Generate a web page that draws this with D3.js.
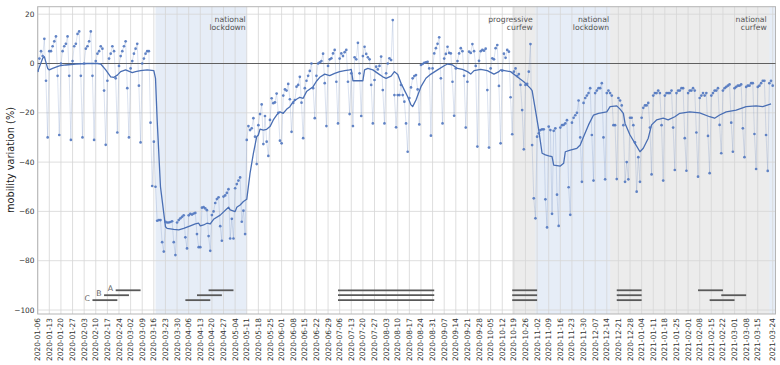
<!DOCTYPE html>
<html><head><meta charset="utf-8">
<script src="https://cdn.jsdelivr.net/npm/d3@7"></script>
<style>
body{margin:0;background:#fff;}
svg{display:block;font-family:"DejaVu Sans",sans-serif;}
</style></head>
<body><svg id="chart" width="780" height="365"></svg>
<script>
// ---------------- data ----------------
const startDate = "2020-01-06";           // first daily value (Monday)
// daily mobility variation (%), one row per week (Mon..Sun)
const mobility = [
 -3, 2, 5, 3, 10, -7, -30,
 5, 5, 7, 9, 11, -5, -29,
 0, 5, 7, 8, 11, -5, -31,
 1, 7, 8, 12, 13, -5, -30,
 0, 6, 7, 9, 13, -5, -31,
 1, 4, 5, 7, 6, -11, -33,
 -7, 2, 4, 7, 5, -6, -28,
 -1, 3, 5, 7, 9, -10, -30,
 -2, 1, 4, 6, 8, -9, -32,
 0, 2, 4, 5, 5, -24, -49.7,
 -31.7, -50, -63.8, -63.5, -63.5, -72.5, -76.3,
 -64.2, -64.5, -64.5, -64.3, -64, -72.5, -77.7,
 -64.5, -63.5, -62.8, -62.2, -61.6, -70.5, -75,
 -61.6, -61, -61.3, -60.9, -60.6, -69.2, -74.5,
 -74.5, -58.5, -58.3, -58.8, -59.5, -70, -76,
 -61.5, -60, -56.6, -55, -54.3, -66, -71.9,
 -54, -53.5, -52.5, -51, -71, -63, -71,
 -50.6, -48.9, -47.5, -46.2, -64.2, -59.7, -69.2,
 -31, -25.4, -27, -26.3, -22.2, -29.7, -40.8,
 -25, -20.5, -16.6, -32.7, -21.3, -31.7, -37.5,
 -22.9, -14.1, -16.1, -15.8, -12.2, -20, -31.3,
 -32.4, -13, -10.5, -11, -8.3, -14.5, -27.7,
 -16, -14.8, -9.4, -8.7, -5.4, -15.9, -30.3,
 -10, -7, -5, -3, 0, -10, -22.2,
 -5, 0, 0.5, 1, 4, -8, -25.4,
 -1, 1.7, 2.1, 4.1, 5.5, -7.4, -24.3,
 2, 4.1, 3, 4.6, 5.5, -7.4, -20.5,
 -4, -25.4, 2.5, 1.7, 8.4, -4, -21.3,
 3, 6.8, 3.9, 2.5, 1.7, -8.7, -24.3,
 -6.7, -1.3, -2.4, -1, 2.8, -10.8, -24.3,
 -4, 0, 2.1, 1.4, 17.6, -12.8, -25.9,
 -12.8, -12.8, -8.7, -12.8, -15.5, -24.3, -35.8,
 -14, -9.7, -6, -5.1, -4.7, -10.5, -24.7,
 -0.6, -0.2, 0.3, 0.5, 0.7, -2, -29.3,
 -2, 4.1, 6.2, 8, 10.6, -6, -24.3,
 2, 3.9, 6.8, 4.3, 4.1, -7.4, -21.2,
 -2, 1, 4.1, 6.2, 5, -5, -26,
 -7.4, 4.8, 4.3, 7.9, 5, -1, -33.7,
 1.1, 5, 5.5, 5.2, 6, -10.8, -34.1,
 -2, 2.1, 1.7, 6.2, 7.5, -9.1, -32.4,
 -2.9, 4, 2.3, 5.5, 4.8, -13.7, -28.7,
 -3.3, -2, -5.1, -4.3, -8.7, -18.9, -34.8,
 -8.7, -8.3, -3.3, 7.9, -33.1, -54.7, -62.8,
 -29.7, -28.3, -27, -26.7, -26.7, -55.1, -66.5,
 -25.6, -27, -61, -27.3, -26.3, -53.2, -65.9,
 -26, -25, -24.9, -24.3, -23, -50.2, -61.4,
 -24, -22, -21, -20, -15, -30, -48,
 -16, -14, -13, -12, -10, -29, -47.5,
 -12, -11, -10, -10, -8, -30, -47,
 -12, -11, -12, -13, -25, -25, -46.9,
 -14, -15, -17, -25, -48, -40, -47,
 -22, -22, -25, -32, -52, -38, -48,
 -22, -18, -17, -17, -16, -26, -45,
 -13, -12, -12, -11, -12, -25, -47.5,
 -13, -12, -12, -12, -11, -26, -43.2,
 -12, -11, -11, -10, -10, -30.3, -43.5,
 -12, -11, -11, -10, -11, -28, -45.9,
 -14, -13, -12, -13, -12, -29.4, -44.5,
 -13, -12, -11, -11, -10, -24.9, -36.4,
 -11, -10, -9.5, -9, -8.5, -24, -35.8,
 -10, -9.5, -9, -9, -8.5, -26.3, -38,
 -9.5, -9, -9, -8, -8, -28.6, -42.8,
 -9.5, -9, -8, -7, -7, -29, -43.6,
 -8, -7, -9
];
// smoothed trend: [days after startDate, value]
const trend = [
 [0,-3.3],[3,2.1],[4,2.8],[6,-2],[7,-2.6],[9,-2],[13,-1],[17,-0.6],[23,-0.2],[30,0],[36,0],[38,-0.2],
 [41,-2.6],[44,-5.4],[46,-5.6],[48,-4.7],[50,-3.3],[53,-2.6],[57,-3.7],[59,-3.3],[62,-2.9],[66,-2.6],
 [70,-2.9],[71,-6],[72,-22.9],[74,-50],[77,-66.2],[78,-66.9],[82,-67.3],[85,-67.5],[88,-66.9],[92,-65.9],
 [95,-65.1],[97,-64.8],[98,-65.9],[100,-65.5],[102,-64.8],[104,-65.1],[106,-63.2],[110,-61.5],[115,-58.3],
 [116,-59.4],[119,-60.1],[120,-58.3],[122,-57.4],[124,-56],[126,-55.1],[128,-44.5],[130,-36.5],[132,-29.7],
 [133,-29],[134,-26.6],[136,-27],[138,-26.7],[140,-25.6],[142,-22.9],[144,-20.9],[146,-19.6],[148,-20.2],
 [150,-18.6],[152,-17.5],[154,-15.5],[156,-14.5],[158,-13.7],[160,-14.1],[162,-11.4],[166,-9.4],[168,-7.2],
 [170,-5.6],[173,-4.3],[176,-4.9],[179,-4],[182,-3.3],[185,-2.9],[188,-2.6],[189,-2.4],[190,-7],[196,-7],
 [197,-2.6],[199,-2],[202,-2.6],[205,-4],[208,-5.4],[210,-6],[213,-5.1],[215,-3.3],[217,-4.5],[219,-8],
 [221,-10.8],[223,-13.5],[225,-16.8],[226,-17.5],[228,-14.8],[231,-9.4],[234,-6],[237,-4.3],[241,-2.6],
 [245,-0.9],[247,-0.2],[250,-0.6],[253,-2],[256,-2.4],[259,-3.3],[261,-4.3],[263,-2.9],[267,-2.4],
 [271,-2.9],[275,-4.3],[278,-3.3],[279,-2.6],[285,-3.3],[289,-5.4],[293,-7.4],[297,-10.1],[298,-11],
 [300,-18.9],[302,-27],[304,-36.4],[306,-37.1],[308,-37.5],[310,-37.8],[311,-41.2],[315,-41.6],[317,-40.5],
 [318,-35.8],[321,-35.1],[325,-34.4],[327,-33.1],[329,-29.7],[332,-24.9],[335,-20.9],[338,-20.2],
 [343,-19.6],[345,-17.5],[349,-17.2],[351,-18.5],[353,-20.2],[354,-24.3],[357,-29],[360,-32.4],
 [363,-35.8],[365,-34.4],[368,-30.3],[370,-24.9],[373,-22.9],[377,-22.2],[380,-22.9],[384,-21.6],
 [387,-20.2],[393,-19.6],[399,-20],[405,-21.6],[408,-22.2],[411,-20.9],[415,-19.6],[421,-18.9],
 [427,-17.5],[433,-17.2],[437,-17.5],[442,-16.4]
];
const xTickLabels = [
 "2020-01-06","2020-01-13","2020-01-20","2020-01-27","2020-02-03","2020-02-10","2020-02-17","2020-02-24",
 "2020-03-02","2020-03-09","2020-03-16","2020-03-23","2020-03-30","2020-04-06","2020-04-13","2020-04-20",
 "2020-04-27","2020-05-04","2020-05-11","2020-05-18","2020-05-25","2020-06-01","2020-06-08","2020-06-15",
 "2020-06-22","2020-06-29","2020-07-06","2020-07-13","2020-07-20","2020-07-27","2020-08-03","2020-08-10",
 "2020-08-17","2020-08-24","2020-08-31","2020-09-07","2020-09-14","2020-09-21","2020-09-28","2020-10-05",
 "2020-10-12","2020-10-19","2020-10-26","2020-11-02","2020-11-09","2020-11-16","2020-11-23","2020-11-30",
 "2020-12-07","2020-12-14","2020-12-21","2020-12-28","2021-01-04","2021-01-11","2021-01-18","2021-01-25",
 "2021-02-01","2021-02-08","2021-02-15","2021-02-22","2021-03-01","2021-03-08","2021-03-15","2021-03-24"
];
const yTicks = [-100, -80, -60, -40, -20, 0, 20];
const curfewPeriods = [["2020-10-18", "2021-03-26"]];
const lockdownPeriods = [["2020-03-17", "2020-05-11"], ["2020-11-01", "2020-12-16"], ["2021-03-22", "2021-03-26"]];
const periodLabels = [
 {lines: ["national", "lockdown"], end: "2020-05-11"},
 {lines: ["progressive", "curfew"], end: "2020-10-31"},
 {lines: ["national", "lockdown"], end: "2020-12-16"},
 {lines: ["national", "curfew"], end: "2021-03-21"}
];
const refBars = [
 {label: "A", level: -92, start: "2020-02-22", end: "2020-03-08"},
 {label: "B", level: -94, start: "2020-02-15", end: "2020-03-01"},
 {label: "C", level: -96, start: "2020-02-08", end: "2020-02-23"},
 {level: -92, start: "2020-04-18", end: "2020-05-03"},
 {level: -94, start: "2020-04-11", end: "2020-04-26"},
 {level: -96, start: "2020-04-04", end: "2020-04-19"},
 {level: -92, start: "2020-07-05", end: "2020-09-01"},
 {level: -94, start: "2020-07-05", end: "2020-09-01"},
 {level: -96, start: "2020-07-05", end: "2020-09-01"},
 {level: -92, start: "2020-10-18", end: "2020-11-02"},
 {level: -94, start: "2020-10-18", end: "2020-11-02"},
 {level: -96, start: "2020-10-18", end: "2020-11-02"},
 {level: -92, start: "2020-12-20", end: "2021-01-04"},
 {level: -94, start: "2020-12-20", end: "2021-01-04"},
 {level: -96, start: "2020-12-20", end: "2021-01-04"},
 {level: -92, start: "2021-02-07", end: "2021-02-22"},
 {level: -94, start: "2021-02-21", end: "2021-03-08"},
 {level: -96, start: "2021-02-14", end: "2021-03-01"}
];
const yLabel = "mobility variation (%)";

// ---------------- drawing ----------------
const svg = d3.select("#chart");
const P = {left: 37.7, right: 775.5, top: 6.7, bottom: 314};
const parse = d3.utcParse("%Y-%m-%d");
const t0 = parse(startDate);
const x = d3.scaleUtc().domain([parse("2020-01-06"), parse("2021-03-24")]).range([37.7, 772.7]);
const y = d3.scaleLinear().domain([-100, 20]).range([310, 14.2]);
const clamp = v => Math.max(P.left, Math.min(P.right, v));

svg.append("rect").attr("width", 780).attr("height", 365).attr("fill", "#fff");
svg.append("defs").append("clipPath").attr("id", "clip")
  .append("rect").attr("x", P.left).attr("y", P.top).attr("width", P.right - P.left).attr("height", P.bottom - P.top);

const gShade = svg.append("g");
curfewPeriods.forEach(([a, b]) => {
  const x0 = clamp(x(parse(a))), x1 = clamp(x(parse(b)));
  gShade.append("rect").attr("x", x0).attr("y", P.top).attr("width", x1 - x0).attr("height", P.bottom - P.top)
    .attr("fill", "#ececec");
});
lockdownPeriods.forEach(([a, b]) => {
  const x0 = clamp(x(parse(a))), x1 = clamp(x(parse(b)));
  gShade.append("rect").attr("x", x0).attr("y", P.top).attr("width", x1 - x0).attr("height", P.bottom - P.top)
    .attr("fill", "#e6edf7");
});

// grid
const gGrid = svg.append("g").attr("stroke", "#d6d6d6").attr("stroke-width", 0.8);
xTickLabels.forEach(s => {
  const xx = x(parse(s));
  gGrid.append("line").attr("x1", xx).attr("x2", xx).attr("y1", P.top).attr("y2", P.bottom);
});
yTicks.forEach(v => {
  gGrid.append("line").attr("x1", P.left).attr("x2", P.right).attr("y1", y(v)).attr("y2", y(v));
});

// frame
svg.append("rect").attr("x", P.left).attr("y", P.top).attr("width", P.right - P.left).attr("height", P.bottom - P.top)
  .attr("fill", "none").attr("stroke", "#b5b5b5").attr("stroke-width", 1);

// zero line
svg.append("line").attr("x1", P.left).attr("x2", P.right).attr("y1", y(0)).attr("y2", y(0))
  .attr("stroke", "#606060").attr("stroke-width", 1);

// data
const pts = mobility.map((v, i) => ({date: d3.utcDay.offset(t0, i), v}));
const gData = svg.append("g").attr("clip-path", "url(#clip)");
gData.append("path").datum(pts)
  .attr("d", d3.line().x(d => x(d.date)).y(d => y(d.v)))
  .attr("fill", "none").attr("stroke", "#4c72b0").attr("stroke-opacity", 0.22).attr("stroke-width", 0.9);
gData.append("path").datum(trend)
  .attr("d", d3.line().x(d => x(d3.utcDay.offset(t0, d[0]))).y(d => y(d[1])))
  .attr("fill", "none").attr("stroke", "#4a6fb4").attr("stroke-width", 1.3).attr("stroke-linejoin", "round");
gData.selectAll("circle").data(pts).join("circle")
  .attr("cx", d => x(d.date)).attr("cy", d => y(d.v)).attr("r", 1.35)
  .attr("fill", "#5278c0").attr("fill-opacity", 0.9);

// reference period bars
const gBars = svg.append("g");
refBars.forEach(b => {
  const x0 = x(parse(b.start)), x1 = x(parse(b.end));
  gBars.append("line").attr("x1", x0).attr("x2", x1).attr("y1", y(b.level)).attr("y2", y(b.level))
    .attr("stroke", "#595959").attr("stroke-width", 1.8);
  if (b.label) {
    gBars.append("text").attr("x", x0 - 2.5).attr("y", y(b.level)).attr("dy", "0.1em")
      .attr("text-anchor", "end").attr("font-size", 7.8).attr("fill", "#666").text(b.label);
  }
});

// period annotations
periodLabels.forEach(p => {
  const t = svg.append("text").attr("text-anchor", "end").attr("font-size", 7.7).attr("fill", "#555");
  p.lines.forEach((s, i) => {
    t.append("tspan").attr("x", x(parse(p.end)) - 1).attr("y", 22 + i * 8).text(s);
  });
});

// y tick labels
svg.append("g").selectAll("text").data(yTicks).join("text")
  .attr("x", 34.5).attr("y", d => y(d)).attr("dy", "0.34em").attr("text-anchor", "end")
  .attr("font-size", 7.4).attr("fill", "#333")
  .text(d => d < 0 ? "\u2212" + Math.abs(d) : String(d));

// x tick labels
svg.append("g").selectAll("text").data(xTickLabels).join("text")
  .attr("transform", s => `translate(${x(parse(s))},318) rotate(-90)`)
  .attr("dy", "0.34em").attr("text-anchor", "end")
  .attr("font-size", 7.4).attr("fill", "#333").text(s => s);

// y label
svg.append("text").attr("transform", "translate(14,160) rotate(-90)")
  .attr("text-anchor", "middle").attr("font-size", 9.8).attr("fill", "#222").text(yLabel);
</script>
</body></html>
